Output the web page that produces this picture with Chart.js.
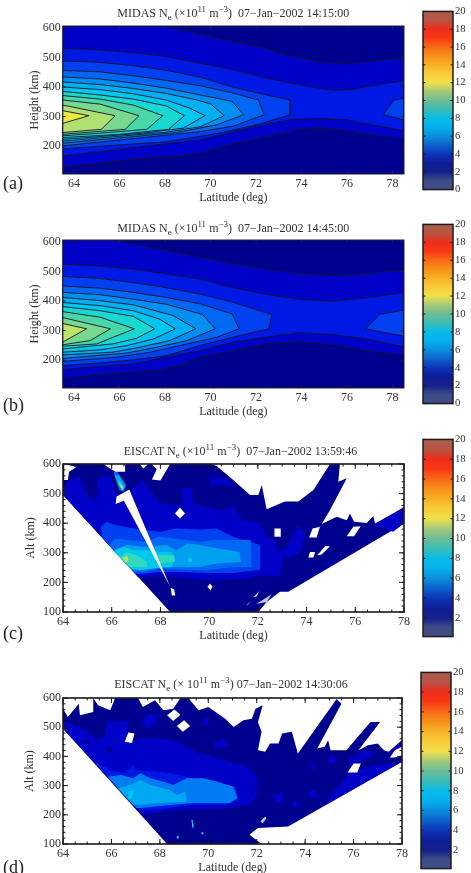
<!DOCTYPE html>
<html>
<head>
<meta charset="utf-8">
<title>Ne maps</title>
<script src="https://cdn.jsdelivr.net/npm/chart.js@4/dist/chart.umd.min.js"></script>
<style>
body { margin: 0; background: #fff; overflow: hidden; width: 471px; height: 873px; position: relative; }
canvas { position: absolute; left: 0; }
.ttl, .tag { position: absolute; font-family: "Liberation Serif", serif; color: #333; white-space: nowrap; }
.ttl { font-size: 12px; transform: translateX(-50%); line-height: 14px; }
.ttl sub, .ttl sup { font-size: 9px; line-height: 0; }
.tag { font-size: 18px; color: #222; left: 3px; }
</style>
</head>
<body>
<script>
'use strict';

// colour scale for the filled bands, value -> colour
const scaleValues = [0, 1, 1.6, 2.2, 3, 3.7, 4.4, 5, 5.8, 6.6, 7.4, 8.2, 9, 10, 11, 12, 13, 14, 15, 16, 17, 18, 19, 20];
const scaleColors = ['#3c4b86', '#3a4a8c', '#1c2a8c', '#00008e', '#0000c6', '#0018e4', '#0040f0', '#0068f2', '#0090f2', '#00b0f0',
  '#00c8ec', '#18d8d0', '#48d8a8', '#78d890', '#b0e070', '#eee840', '#fdd030', '#ffb020', '#ff9010', '#ff6a10', '#ff3a10', '#f42a14', '#b85040', '#a85a48'];

// the colour bars print a little duller than the bands
const barValues = [0, 1, 1.5, 2, 3, 4, 5, 6, 7, 8, 9, 10, 11, 12, 13, 14, 15, 16, 17, 18, 19, 20];
const barColors = ['#3f4c85', '#3f4c85', '#2a3688', '#141f8c', '#0e1c96', '#0c35b8', '#0c62cc', '#0a8fdc', '#04b0ec', '#08bce8', '#3cbcb4',
  '#6cbc98', '#a4c878', '#f0e04c', '#f8cc38', '#f8b028', '#f89018', '#f86a18', '#f83a14', '#f02c1c', '#b85444', '#ac5c4c'];

const latTicks = [64, 66, 68, 70, 72, 74, 76, 78];
const midasAltTicks = [200, 300, 400, 500, 600];
const eiscatAltTicks = [100, 200, 300, 400, 500, 600];
const barTicksFull = [0, 2, 4, 6, 8, 10, 12, 14, 16, 18, 20];
const barTicksEiscat = [2, 4, 6, 8, 10, 12, 14, 16, 18, 20];

// contour levels of the model runs, lowest band first
const midasLevels = [2.2, 3, 3.7, 4.4, 5, 5.8, 6.6, 7.4, 8.2, 9, 10, 11, 12];
const midasLevelsB = [2.2, 3, 3.7, 4.4, 5, 5.8, 6.6, 7.4, 8.2, 9, 10, 11.2];

// [lat, height] outlines, one per level
const midasA = [
  [[63.5,106],[78.5,106],[78.5,606],[63.5,606]],
  [[63.5,606],[68.05,606],[69.55,578],[71,554],[72.15,537],[73.35,508],[74.8,486],[76,480],[76.85,486],[78.5,497],
   [78.5,224],[77.3,235],[76,253],[74.8,262],[73.95,257],[72.45,232],[71,208],[69.55,176],[68.5,165],[66.9,159],[65.15,142],[63.5,131]],
  [[63.5,531],[65.15,525],[66.6,516],[68.05,503],[69.55,480],[71,458],[72.45,430],[73.95,407],[75.4,388],[76.25,392],[77.3,407],[78.5,421],
   [78.5,253],[76.85,275],[76,289],[74.8,294],[73.65,291],[72.45,275],[71,249],[69.55,221],[68.05,208],[65.15,182],[63.5,167]],
  [[63.5,488],[65.15,483],[66.6,472],[68.05,456],[69.55,433],[71,399],[72.45,373],[73.5,356],[73.5,306],[72.15,275],[70.4,244],[68.05,215],[63.5,191]],
  [[63.5,456],[65.15,451],[66.6,438],[68.05,422],[69.55,404],[71,379],[72.1,356],[72.35,306],[71,268],[69.55,249],[63.5,201]],
  [[63.5,434],[65.15,427],[66.6,413],[68.05,396],[69.55,373],[70.95,351],[71.45,306],[70.25,272],[68.5,246],[63.5,210]],
  [[63.5,417],[65.15,408],[66.6,395],[68.05,378],[69.4,356],[70,343],[70.6,303],[69.55,266],[68.05,247],[63.5,217]],
  [[63.5,400],[65.15,391],[66.6,377],[68.05,356],[69.1,328],[69.75,303],[68.8,261],[67.05,244],[63.5,223]],
  [[63.5,385],[65.15,373],[66.6,359],[68.05,336],[68.85,303],[68.15,257],[66,240],[63.5,229]],
  [[63.5,371],[65.15,359],[66.6,339],[67.9,303],[67.2,257],[65.15,244],[63.5,235]],
  [[63.5,356],[65.15,342],[66.85,303],[66.25,257],[63.5,240]],
  [[63.5,339],[65.8,303],[65.2,257],[63.5,246]],
  [[63.5,320],[64.65,303],[63.5,277]]
];
const midasAIsland = [[78.5,362],[78.05,356],[77.6,306],[78.5,289]];

const midasB = [
  [[63.5,106],[78.5,106],[78.5,606],[63.5,606]],
  [[63.5,606],[65.85,606],[68.05,570],[69.55,548],[71,525],[72.45,508],[73.95,492],[75.4,486],[76.85,492],[78.5,505],
   [78.5,218],[76.85,232],[75.4,252],[73.95,263],[72.45,255],[71,232],[69.55,210],[68.65,182],[67.65,165],[66.6,161],[65.15,153],[63.5,137]],
  [[63.5,524],[65.15,518],[66.6,507],[68.05,492],[69.55,473],[71,445],[72.45,422],[73.95,405],[75.4,399],[76.85,411],[78.5,428],
   [78.5,245],[76.85,272],[75.4,286],[73.95,293],[72.45,278],[71,261],[69.55,232],[68.05,211],[66.6,187],[65.15,179],[63.5,168]],
  [[63.5,483],[65.15,476],[66.6,462],[68.05,445],[69.55,423],[71,395],[72.7,354],[72.55,306],[71,278],[69.55,250],[68.05,215],[66.6,201],[65.15,191],[63.5,182]],
  [[63.5,451],[65.15,443],[66.6,429],[68.05,412],[69.55,390],[70.95,356],[71.25,306],[70.25,277],[68.95,255],[67.35,227],[65.85,210],[63.5,196]],
  [[63.5,429],[65.15,421],[66.6,406],[68.05,389],[69.65,354],[70.2,306],[68.95,266],[67.65,244],[66.3,224],[63.5,206]],
  [[63.5,412],[65.15,401],[66.6,387],[68.35,351],[69.35,306],[68.2,266],[66.9,244],[65.7,227],[63.5,218]],
  [[63.5,395],[65.15,384],[66.6,367],[67.75,339],[68.45,306],[67.5,272],[66.3,249],[65.15,235],[63.5,227]],
  [[63.5,381],[65.15,367],[66.6,348],[67.55,306],[66.75,274],[65.7,255],[63.5,238]],
  [[63.5,364],[65.15,345],[66.65,306],[65.7,277],[65,255],[63.5,247]],
  [[63.5,344],[65.6,306],[64.7,266],[63.5,252]],
  [[63.5,324],[64.55,306],[63.5,261]]
];
const midasBIsland = [[78.5,369],[77.45,355],[76.8,306],[78.5,281]];

// radar scan at 13:59:46
const coverC = [[64,495],[68.4,100],[72.02,100],[72.36,134],[72.91,168],[73.25,168],[78,399],[78,453],[76.81,399],[76.74,424],[76.47,401],
  [75.95,405],[75.78,433],[75.65,410],[75.24,422],[74.62,397],[74.96,444],[75.65,552],[75.3,540],[75.37,600],[74.96,600],[74.28,512],
  [73.66,473],[73.11,473],[72.36,447],[72.16,529],[72.02,495],[71.68,495],[70.99,546],[70.31,593],[70.1,600],[64,600]];
const levelsC = [3, 3, 3, 3, 4.4, 5, 6.2, 7.4, 7.4, 8.6, 8.6, 11, 5, 6.6, 9, 11.5, 14.5];
const bandsC = [
  [[64.08,518],[64.2,546],[64.7,557],[64.9,512],[65.25,473],[65.45,501],[65.4,552],[65.95,563],[66.15,512],[66.4,467],[66.8,512],[67.3,546],
   [67.55,512],[68,467],[68.95,461],[68.85,518],[69.3,518],[69.35,467],[70.45,444],[71.15,456],[70.85,473],[71.4,410],[72.15,399],[72.35,354],
   [72.7,343],[72.9,303],[73.2,320],[73.65,393],[73.95,371],[73.8,309],[73.45,286],[73.05,286],[72.9,219],[72.25,224],[71.55,213],[70.3,207],
   [68.8,213],[68.25,219],[67.3,219],[67.07,219],[64,495]],
  [[69.9,557],[70.7,552],[71,529],[70.17,529]],
  [[73.25,173],[74.15,224],[74.95,275],[75.35,281],[74.55,252],[73.85,207]],
  [[76.75,393],[78,455],[78,399],[77.55,371]],
  [[65.6,352],[65.55,388],[65.8,405],[66.15,394],[66.5,388],[67.3,377],[68,371],[68.65,382],[69.6,379],[70.3,382],[71,354],[72.1,326],[72.1,243],
   [71,232],[69.9,232],[68.8,235],[68,235],[67.15,228],[66.97,228]],
  [[65.88,326],[66.15,348],[66.6,343],[67.45,337],[67.9,354],[68.55,348],[69.1,343],[69.6,337],[70.3,343],[70.85,343],[71.7,343],[71.75,252],
   [70.85,250],[69.9,241],[68.8,243],[68,247],[67.3,235],[66.9,235]],
  [[66.07,309],[66.6,326],[67.45,320],[68.25,326],[68.65,309],[69.1,331],[69.6,326],[70.3,315],[71.25,303],[71.3,269],[70.3,264],[69.6,252],
   [68.8,252],[68.1,252],[67.3,243],[66.81,243]],
  [[66.1,306],[66.5,320],[66.9,309],[67.45,309],[68,303],[68.45,303],[68.6,281],[68.45,252],[67.7,247],[67.15,241],[66.76,247]],
  [[69.15,285],[69.3,280],[69.3,268],[69.15,268]],
  [[66.35,284],[66.6,303],[67.05,292],[67.45,269],[67.45,252],[67.05,252],[66.7,252]],
  [[67.9,292],[68.55,292],[68.6,269],[68,264]],
  [[66.45,285],[66.65,288],[66.7,270],[66.55,268]],
  [[66.07,574],[66.23,574],[66.6,529],[66.5,506],[66.3,512]],
  [[66.13,563],[66.3,560],[66.55,526],[66.45,510],[66.27,530]],
  [[66.28,546],[66.5,521],[66.42,512],[66.3,529]],
  [[66.33,532],[66.48,519],[66.42,513]],
  [[66.4,522],[66.47,517],[66.42,513]]
];
const gapsC = [
  [[68.39,187],[66.72,514],[66.2,490],[66.16,465],[66.5,476]],
  [[68.42,182],[68.56,176],[68.61,156],[68.47,156]],
  [[68.6,433],[68.8,453],[69.01,433],[68.8,416]],
  [[69.93,185],[70.04,196],[70.13,185],[70.06,173]],
  [[72.68,382],[72.94,382],[72.94,354],[72.7,354]],
  [[74.1,352],[74.25,382],[74.55,388],[74.41,352]],
  [[74.07,284],[74.14,303],[74.35,303],[74.28,284]],
  [[74.44,292],[74.76,322],[74.96,322],[74.62,294]],
  [[75.65,356],[75.92,388],[76.22,390],[75.95,356]],
  [[64.05,600],[64.55,590],[64.25,574],[64.2,546],[64.05,546]],
  [[65.65,600],[66.55,600],[66.55,574],[66.15,574]],
  [[67.15,600],[67.5,600],[67.3,585]],
  [[67.65,600],[68.4,600],[68,544],[67.65,548],[67.85,582]]
];
const slivC = [
  [[71.95,128],[72.57,160],[72.36,134]],
  [[71.5,120],[71.75,140],[71.6,125]],
  [[71.81,150],[72.06,171],[71.95,152]]
];

// radar scan at 14:30:06
const coverD = [[64,495],[68.3,100],[72.05,100],[72.15,103],[71.7,132],[72.05,155],[73.3,160],[78,382],[78,456],[77.45,416],[77.25,421],[77,444],
  [76.6,438],[76.2,421],[77.1,518],[76.7,518],[75.7,421],[75.05,421],[74.95,455],[74.8,433],[74.5,427],[75.5,580],[75.3,597],[73.7,410],[73.45,484],
  [73.05,478],[72.9,444],[72.55,444],[72.35,416],[72.05,421],[72.2,484],[72.05,518],[72.25,575],[71.95,563],[71.8,529],[71.45,524],[71.05,501],
  [70.7,529],[70,569],[69.6,558],[69.25,592],[69.2,600],[68.85,600],[68.55,563],[68.15,558],[67.8,592],[67.3,569],[67.1,600],[66.15,600],[65.95,558],
  [65.45,575],[65.25,600],[65.25,552],[64.7,541],[64.65,580],[64.2,535],[64,563]];
const levelsD = [3, 3, 3, 3, 3, 3, 3, 3, 3, 3, 3, 3, 3, 2.2, 2.2, 3.7, 5.4, 6.4, 7.4, 7.4, 8.2, 8.2, 8.2];
const bandsD = [
  [[64,524],[64.9,495],[65.4,456],[65.75,473],[65.8,518],[66.7,524],[66.7,444],[67.3,465],[67.85,461],[68.55,456],[69.65,410],[70.75,387],[71.6,365],
   [72,331],[72.05,274],[71.75,234],[70.35,219],[68.55,217],[67.45,200],[67.32,200],[64,495]],
  [[67.25,524],[67.5,546],[67.95,541],[67.8,507],[67.4,495]],
  [[69.8,535],[70,530],[70,507],[69.8,507]],
  [[70.2,444],[70.6,461],[70.9,438],[70.35,427]],
  [[74.95,257],[75.3,291],[75.85,342],[76.8,370],[77.8,376],[78,382],[74.95,239]],
  [[75.8,387],[76.4,421],[77,416],[76.55,393],[75.85,365]],
  [[77.5,416],[78,450],[78,433],[77.55,404]],
  [[72.7,268],[73.1,279],[73.1,245],[72.75,240]],
  [[74.25,376],[74.45,376],[74.4,353],[74.25,353]],
  [[74.95,399],[75.25,404],[75.25,382],[74.95,370]],
  [[74.15,279],[74.4,285],[74.6,257],[74.25,257]],
  [[73.5,245],[73.8,245],[73.7,228],[73.5,219]],
  [[69.3,183],[69.35,183],[69.4,155],[69.35,155]],
  [[65.8,433],[66,433],[66,416],[65.8,416]],
  [[64.9,455],[65.05,455],[65.05,444],[64.9,444]],
  [[65.35,376],[65.45,376],[65.95,353],[66.5,342],[66.9,370],[67.05,353],[67.85,348],[68.85,336],[70.05,308],[71.15,285],[71.25,257],[70.75,234],
   [69.4,234],[68.4,223],[67.75,217],[67.13,217]],
  [[65.84,330],[66.4,336],[66.9,325],[67.2,342],[67.6,325],[68.15,313],[68.55,302],[69.1,325],[69.8,325],[70.35,314],[71.05,296],[71.2,257],
   [70.9,240],[69.4,240],[68.55,234],[67.75,228],[67.25,223],[67.03,223]],
  [[66.25,291],[66.75,302],[67.2,319],[67.65,302],[68.4,285],[68.7,268],[69.05,279],[69.1,245],[67.85,240],[67.15,234],[66.9,234]],
  [[66.7,279],[66.9,285],[66.85,257],[66.7,251]],
  [[69.3,183],[69.35,183],[69.4,155],[69.35,155]],
  [[68.7,127],[68.78,127],[68.78,119],[68.7,119]],
  [[69.72,140],[69.8,140],[69.8,133],[69.72,133]],
  [[69.33,170],[69.38,170],[69.38,160],[69.33,160]]
];
const gapsD = [
  [[66.55,450],[66.7,482],[66.95,478],[66.85,446]],
  [[68.3,541],[68.6,561],[68.85,543],[68.55,521]],
  [[68.7,504],[69,524],[69.25,504],[68.95,484]],
  [[75.75,345],[76,376],[76.3,376],[76.15,345]],
  [[77.5,395],[77.7,421],[78,433],[78,399]]
];
const slivD = [
  [[72.15,177],[72.35,194],[72.4,188],[72.25,171]]
];

function levelColor(v) {
  let i = 0;
  while (i < scaleValues.length - 2 && scaleValues[i + 1] < v) i++;
  let t = (v - scaleValues[i]) / (scaleValues[i + 1] - scaleValues[i]);
  t = Math.min(1, Math.max(0, t));
  let a = parseInt(scaleColors[i].slice(1), 16);
  let b = parseInt(scaleColors[i + 1].slice(1), 16);
  let out = [16, 8, 0].map(s => Math.round(((a >> s) & 255) * (1 - t) + ((b >> s) & 255) * t));
  return 'rgb(' + out.join(',') + ')';
}

function poly(points, fillColor, lineColor) {
  return {
    data: points.concat([points[0]]).map(p => ({ x: p[0], y: p[1] })),
    showLine: true,
    fill: 'shape',
    tension: 0,
    pointRadius: 0,
    backgroundColor: fillColor,
    borderColor: lineColor || fillColor,
    borderWidth: lineColor ? 0.9 : 0
  };
}

// inward tick marks and the box round the plot
const boxPlugin = {
  id: 'box',
  afterDatasetsDraw(chart, args, opts) {
    const ctx = chart.ctx, a = chart.chartArea, sx = chart.scales.x, sy = chart.scales.y;
    ctx.save();
    ctx.strokeStyle = opts.color;
    ctx.lineWidth = opts.width;
    ctx.strokeRect(a.left, a.top, a.right - a.left, a.bottom - a.top);
    ctx.lineWidth = 1;
    ctx.beginPath();
    const markX = (v, n) => {
      const px = sx.getPixelForValue(v);
      ctx.moveTo(px, a.top); ctx.lineTo(px, a.top + n);
      ctx.moveTo(px, a.bottom); ctx.lineTo(px, a.bottom - n);
    };
    const markY = (v, n) => {
      const py = sy.getPixelForValue(v);
      ctx.moveTo(a.left, py); ctx.lineTo(a.left + n, py);
      ctx.moveTo(a.right, py); ctx.lineTo(a.right - n, py);
    };
    (opts.xMajor || []).forEach(v => markX(v, opts.major));
    (opts.yMajor || []).forEach(v => markY(v, opts.major));
    (opts.xMinor || []).forEach(v => markX(v, opts.minor));
    (opts.yMinor || []).forEach(v => markY(v, opts.minor));
    ctx.stroke();
    ctx.restore();
  }
};

const serif = '"Liberation Serif", serif';
const inkColor = '#333';

function addCanvas(top, w, h) {
  let el = document.createElement('canvas');
  el.width = w;
  el.height = h;
  el.style.top = top + 'px';
  document.body.appendChild(el);
  return el;
}

function drawPlot(p) {
  const padTop = 12, axisH = 40;
  let el = addCanvas(p.top - padTop, p.right + 12, padTop + p.height + axisH);
  new Chart(el, {
    type: 'scatter',
    // first dataset is painted last
    data: { datasets: p.sets.slice().reverse() },
    plugins: [boxPlugin],
    options: {
      responsive: false,
      animation: false,
      layout: { padding: { top: padTop, right: 12, left: 0, bottom: 0 } },
      plugins: {
        legend: { display: false },
        tooltip: { enabled: false },
        box: { color: p.boxColor, width: p.boxWidth, major: p.major, minor: 2.5,
          xMajor: latTicks, yMajor: p.yTicks, xMinor: p.xMinor, yMinor: p.yMinor }
      },
      scales: {
        x: {
          type: 'linear', min: p.xMin, max: p.xMax,
          afterBuildTicks(s) { s.ticks = latTicks.map(v => ({ value: v })); },
          afterFit(s) { s.height = axisH; },
          grid: { display: false, drawTicks: false }, border: { display: false },
          ticks: { color: inkColor, padding: 3, maxRotation: 0, autoSkip: false, font: { family: serif, size: 12 } },
          title: { display: true, text: 'Latitude (deg)', color: inkColor, padding: { top: 0, bottom: 8.8 }, font: { family: serif, size: 12 } }
        },
        y: {
          type: 'linear', min: p.yMin, max: p.yMax,
          afterBuildTicks(s) { s.ticks = p.yTicks.map(v => ({ value: v })); },
          afterFit(s) { s.width = p.left; },
          grid: { display: false, drawTicks: false }, border: { display: false },
          ticks: { color: inkColor, padding: 2, autoSkip: false, font: { family: serif, size: 12 } },
          title: { display: true, text: p.yTitle, color: inkColor, padding: { top: p.yTitleGap, bottom: 0 }, font: { family: serif, size: 12 } }
        }
      }
    }
  });
}

function drawBar(b) {
  const padTop = 8;
  let el = addCanvas(b.top - padTop, b.left + b.width + 18, b.height + 2 * padTop);
  el.style.left = '0px';
  new Chart(el, {
    type: 'bar',
    data: {
      labels: [''],
      datasets: [{
        data: [[b.min, 20]],
        barPercentage: 1,
        categoryPercentage: 1,
        backgroundColor(c) {
          const ch = c.chart;
          if (!ch.chartArea) return '#000';
          let g = ch.ctx.createLinearGradient(0, ch.scales.y.getPixelForValue(0), 0, ch.scales.y.getPixelForValue(20));
          barValues.forEach((v, i) => g.addColorStop(v / 20, barColors[i]));
          return g;
        }
      }]
    },
    plugins: [boxPlugin],
    options: {
      responsive: false,
      animation: false,
      layout: { padding: { top: padTop, bottom: padTop, left: b.left, right: 0 } },
      plugins: {
        legend: { display: false },
        tooltip: { enabled: false },
        box: { color: '#1c1c1c', width: 1.5, major: 2.5, minor: 0, yMajor: b.ticks }
      },
      scales: {
        x: { display: false },
        y: {
          position: 'right', min: b.min, max: 20,
          afterBuildTicks(s) { s.ticks = b.ticks.map(v => ({ value: v })); },
          afterFit(s) { s.width = 18; },
          grid: { display: false, drawTicks: false }, border: { display: false },
          ticks: { color: inkColor, padding: 2, autoSkip: false, font: { family: serif, size: 10.7 } }
        }
      }
    }
  });
}

function addTitle(html, x, y) {
  let el = document.createElement('div');
  el.className = 'ttl';
  el.innerHTML = html;
  el.style.left = x + 'px';
  el.style.top = y + 'px';
  document.body.appendChild(el);
}

function addTag(text, y) {
  let el = document.createElement('div');
  el.className = 'tag';
  el.textContent = text;
  el.style.top = y + 'px';
  document.body.appendChild(el);
}

function midasSets(polys, levels, island) {
  let sets = [];
  polys.forEach((pts, i) => {
    sets.push(poly(pts, levelColor(levels[i]), i === 0 ? null : '#14142a'));
    // the patch at the high-latitude side sits on the third contour
    if (i === 3) sets.push(poly(island, levelColor(levels[i]), '#14142a'));
  });
  return sets;
}

function eiscatSets(cover, bands, levels, gaps, slivers) {
  let sets = [poly(cover, levelColor(2.2))];
  bands.forEach((pts, i) => sets.push(poly(pts, levelColor(levels[i]))));
  gaps.forEach(pts => sets.push(poly(pts, '#ffffff')));
  slivers.forEach(pts => sets.push(poly(pts, '#c4cbe2')));
  return sets;
}

let minorLat = [];
for (let v = 64.5; v < 78; v += 0.5) minorLat.push(v);
let minorAlt = [];
for (let v = 120; v < 600; v += 20) minorAlt.push(v);

const midasCommon = { left: 62.7, right: 404, xMin: 63.5, xMax: 78.5, yMin: 106, yMax: 606, yTicks: midasAltTicks,
  yTitle: 'Height (km)', yTitleGap: 27.8, boxColor: '#20202c', boxWidth: 1, major: 3 };
const eiscatCommon = { left: 63, xMin: 64, xMax: 78, yMin: 100, yMax: 600, yTicks: eiscatAltTicks,
  yTitle: 'Alt (km)', boxColor: '#1a1a1a', boxWidth: 1.6, major: 5, xMinor: minorLat, yMinor: minorAlt };

drawPlot(Object.assign({}, midasCommon, { top: 26, height: 148, sets: midasSets(midasA, midasLevels, midasAIsland) }));
drawPlot(Object.assign({}, midasCommon, { top: 240, height: 148, sets: midasSets(midasB, midasLevelsB, midasBIsland) }));
drawPlot(Object.assign({}, eiscatCommon, { top: 464, height: 148, right: 404, yTitleGap: 23.5, sets: eiscatSets(coverC, bandsC, levelsC, gapsC, slivC) }));
drawPlot(Object.assign({}, eiscatCommon, { top: 698, height: 146, right: 402, yTitleGap: 22.8, sets: eiscatSets(coverD, bandsD, levelsD, gapsD, slivD) }));

drawBar({ top: 11, height: 179, left: 423, width: 30, min: 0, ticks: barTicksFull });
drawBar({ top: 224, height: 180, left: 423, width: 30, min: 0, ticks: barTicksFull });
drawBar({ top: 439, height: 198, left: 423, width: 30, min: 0.1, ticks: barTicksEiscat });
drawBar({ top: 672, height: 197, left: 421, width: 30, min: 0.1, ticks: barTicksEiscat });

const neLabel = 'N<sub>e</sub>';
const unitsPower = '10<sup>11</sup> m<sup>−3</sup>)';
addTitle('MIDAS ' + neLabel + ' (×' + unitsPower + '&nbsp; 07−Jan−2002 14:15:00', 233.3, 6);
addTitle('MIDAS ' + neLabel + ' (×' + unitsPower + '&nbsp; 07−Jan−2002 14:45:00', 233.3, 221);
addTitle('EISCAT ' + neLabel + ' (×' + unitsPower + '&nbsp; 07−Jan−2002 13:59:46', 240.5, 444);
addTitle('EISCAT ' + neLabel + ' (× ' + unitsPower + ' 07−Jan−2002 14:30:06', 231, 677);

addTag('(a)', 173);
addTag('(b)', 395);
addTag('(c)', 623);
addTag('(d)', 857);
</script>
</body>
</html>
